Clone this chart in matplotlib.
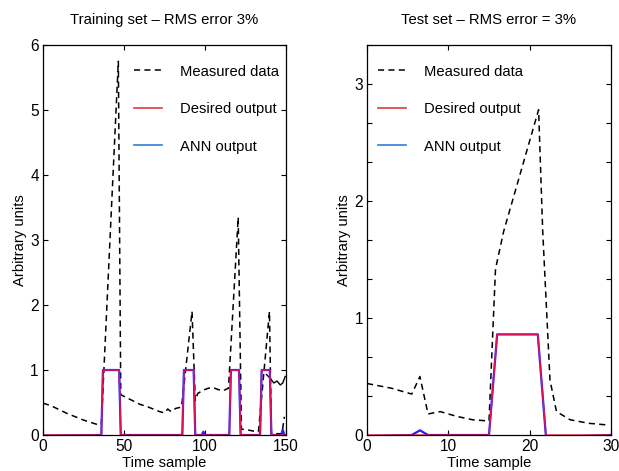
import numpy as np
import matplotlib.pyplot as plt
from matplotlib.lines import Line2D

plt.rcParams["font.family"] = ["Liberation Sans", "DejaVu Sans"]
plt.rcParams["font.size"] = 10.6

# training set (150 samples)
train_meas_x = [0, 5, 10, 15, 20, 25, 30, 35, 36, 46.5, 48, 52, 56, 60, 64, 68, 72, 75,
                77, 79, 82, 85.5, 92, 94, 95.5, 99, 102, 105, 108, 111, 114.5, 120.5,
                122.5, 126, 130, 133, 139.8, 141, 144, 147.5, 149]
train_meas_y = [0.49, 0.45, 0.39, 0.33, 0.28, 0.23, 0.19, 0.15, 0.16, 5.75, 0.62, 0.57,
                0.52, 0.47, 0.44, 0.40, 0.36, 0.34, 0.40, 0.36, 0.41, 0.43, 1.90, 0.53,
                0.64, 0.69, 0.72, 0.73, 0.70, 0.68, 0.72, 3.35, 0.09, 0.08, 0.06, 0.05,
                1.90, 0.0, 0.02, 0.02, 0.28]
train_tail_x = [138, 140, 142.5, 144.5, 146.5, 148, 149.5]
train_tail_y = [0.93, 0.88, 0.80, 0.83, 0.77, 0.80, 0.90]
train_des_x = [0, 36, 37, 47, 48, 86, 87, 93, 94, 115, 116, 121, 122, 134, 135, 140, 141, 150]
train_des_y = [0, 0, 1, 1, 0, 0, 1, 1, 0, 0, 1, 1, 0, 0, 1, 1, 0, 0]
train_ann_x = [0, 36, 37, 47, 48, 86, 87, 93, 94, 98, 99, 100, 115, 116, 121, 122,
               134, 135, 140, 141, 147, 148, 149, 150]
train_ann_y = [-0.01, 0, 1, 1, 0, 0, 1, 1, 0, 0, 0.05, 0, 0, 1, 1, 0,
               0, 1, 1, 0, 0, 0.08, 0, 0]

# test set (30 samples)
test_meas_x = [0, 3, 5.5, 6.5, 7.5, 9, 11, 13, 15, 15.8, 16.8, 21.1, 21.6, 22.5, 23.3,
               25, 27.3, 29.7]
test_meas_y = [0.44, 0.40, 0.35, 0.50, 0.18, 0.20, 0.16, 0.13, 0.12, 1.42, 1.74, 2.78,
               1.75, 0.47, 0.20, 0.13, 0.10, 0.085]
test_des_x = [0, 15, 16, 21, 22, 30]
test_des_y = [0, 0, 0.86, 0.86, 0, 0]
test_ann_x = [0, 5.5, 6.5, 7.5, 15, 16, 21, 22, 26, 30]
test_ann_y = [-0.01, 0, 0.04, 0, 0, 0.86, 0.86, -0.01, -0.01, 0]

fig = plt.figure(figsize=(6.19, 4.71), dpi=100)
ax1 = fig.add_axes([0.0695, 0.0764, 0.3925, 0.828])
ax2 = fig.add_axes([0.593, 0.0764, 0.394, 0.828])

dash = (0, (4, 2.8))
handles = [
    Line2D([], [], color="black", lw=1.1, linestyle=dash),
    Line2D([], [], color="#e03a3a", lw=1.2),
    Line2D([], [], color="#2f7fd6", lw=1.2),
]
labels = ["Measured data", "Desired output", "ANN output"]

ax1.plot(train_meas_x, train_meas_y, color="black", lw=1.1, linestyle=dash)
ax1.plot(train_tail_x, train_tail_y, color="black", lw=1)
ax1.plot(train_ann_x, train_ann_y, color="#2020ff", lw=1.6)
ax1.plot(train_des_x, train_des_y, color="#ff1040", lw=1.1, alpha=0.85)
ax1.set_xlim(0, 150)
ax1.set_ylim(0, 6)
ax1.set_xticks([0, 50, 100, 150])
ax1.set_yticks(range(7))
ax1.set_title("Training set \u2013 RMS error 3%", pad=15, fontsize=10.7)

ax2.plot(test_meas_x, test_meas_y, color="black", lw=1.1, linestyle=dash)
ax2.plot(test_ann_x, test_ann_y, color="#2020ff", lw=1.6)
ax2.plot(test_des_x, test_des_y, color="#ff1040", lw=1.1, alpha=0.85)
ax2.set_xlim(0, 30)
ax2.set_ylim(0, 10 / 3)
ax2.set_xticks([0, 10, 20, 30])
yt = np.arange(11) / 3
ax2.set_yticks(yt)
ax2.set_yticklabels([str(int(round(v))) if abs(v - round(v)) < 1e-6 else "" for v in yt])
ax2.set_title("Test set \u2013 RMS error = 3%", pad=15, fontsize=10.7)

for ax, lx in [(ax1, 0.375), (ax2, 0.045)]:
    ax.tick_params(direction="in", top=True, right=True, length=3.5, width=0.8,
                   labelsize=11.2, pad=3)
    for s in ax.spines.values():
        s.set_linewidth(0.9)
    ax.set_xlabel("Time sample", labelpad=1)
    ax.set_ylabel("Arbitrary units", labelpad=2)
    ax.legend(handles, labels, loc="upper left", bbox_to_anchor=(lx, 0.95),
              frameon=False, borderpad=0, borderaxespad=0, labelspacing=1.6,
              handlelength=1.9, handletextpad=1.2, fontsize=10.6)

fig.savefig("out.png", dpi=100)
